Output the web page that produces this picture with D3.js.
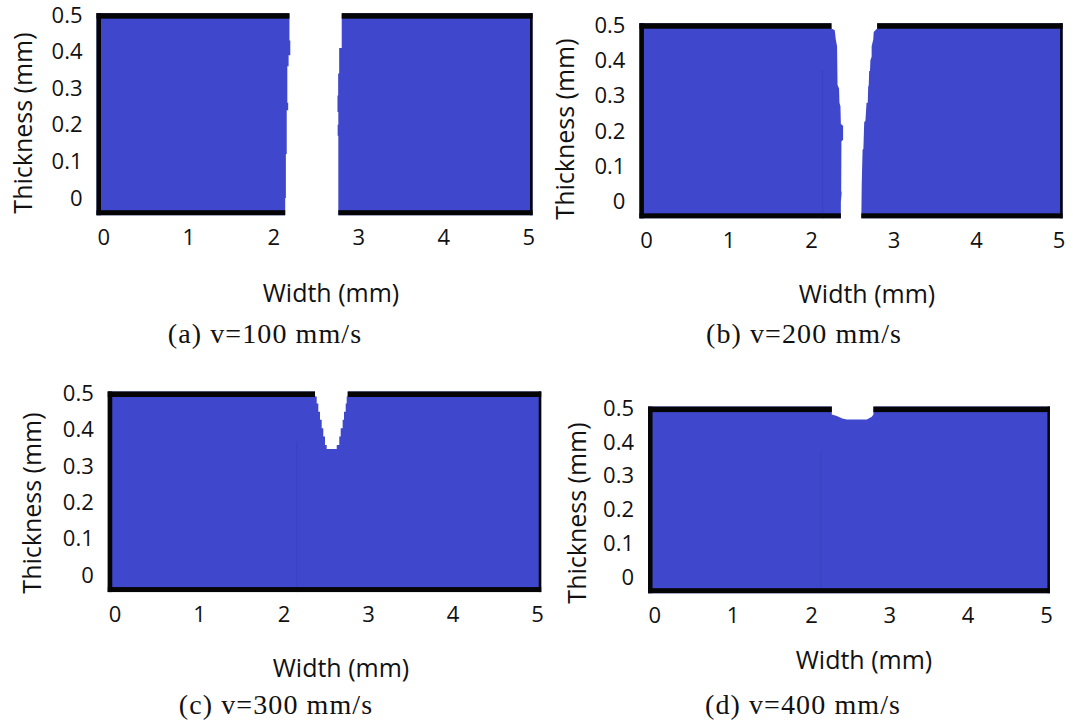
<!DOCTYPE html>
<html><head><meta charset="utf-8">
<script src="https://cdn.jsdelivr.net/npm/d3@7"></script>
<style>body{margin:0;background:#fff} svg{display:block}</style>
</head><body>
<svg id="chart" width="1073" height="726"></svg>
<script>
// ---------- data (mm) ----------
const widthTicks = [0, 1, 2, 3, 4, 5];
const thicknessTicks = [0, 0.1, 0.2, 0.3, 0.4, 0.5];
const panelCaptions = ["(a) v=100 mm/s", "(b) v=200 mm/s", "(c) v=300 mm/s", "(d) v=400 mm/s"];
const xTitle = "Width (mm)";
const yTitle = "Thickness (mm)";
const plateWidth = [-0.08, 5.05];
const plateThickness = [-0.047, 0.505];

// kerf walls, [width, thickness], top to bottom
const kerfA_left = [[2.19,0.505],[2.19,0.43],[2.20,0.43],[2.20,0.39],[2.18,0.39],[2.18,0.36],[2.165,0.36],[2.165,0.26],[2.175,0.26],[2.175,0.24],[2.158,0.24],[2.158,0.12],[2.148,0.12],[2.148,0.0],[2.14,0.0],[2.14,-0.047]];
const kerfA_right = [[2.805,0.505],[2.805,0.41],[2.775,0.41],[2.775,0.34],[2.763,0.34],[2.763,0.28],[2.755,0.28],[2.755,0.235],[2.765,0.235],[2.765,0.2],[2.757,0.2],[2.757,0.17],[2.765,0.17],[2.765,-0.047]];
const kerfB_left = [[2.248,0.505],[2.248,0.49],[2.288,0.485],[2.30,0.46],[2.316,0.44],[2.322,0.33],[2.34,0.32],[2.345,0.28],[2.357,0.27],[2.362,0.22],[2.389,0.215],[2.389,0.175],[2.369,0.17],[2.366,0.03],[2.372,0.025],[2.362,0.0],[2.362,-0.047]];
const kerfB_right = [[2.802,0.505],[2.802,0.49],[2.76,0.48],[2.755,0.46],[2.735,0.44],[2.735,0.41],[2.72,0.40],[2.715,0.37],[2.705,0.37],[2.700,0.33],[2.693,0.325],[2.688,0.28],[2.673,0.28],[2.66,0.23],[2.645,0.225],[2.635,0.15],[2.625,0.146],[2.615,0.05],[2.61,-0.047]];
// notches, [width, thickness], left to right
const notchC = [[2.373,0.505],[2.373,0.491],[2.393,0.491],[2.393,0.472],[2.412,0.472],[2.412,0.449],[2.432,0.449],[2.432,0.427],[2.452,0.427],[2.452,0.404],[2.471,0.404],[2.471,0.381],[2.491,0.381],[2.491,0.358],[2.511,0.358],[2.511,0.347],[2.630,0.347],[2.630,0.358],[2.660,0.358],[2.660,0.381],[2.677,0.381],[2.677,0.404],[2.700,0.404],[2.700,0.427],[2.716,0.427],[2.716,0.449],[2.736,0.449],[2.736,0.472],[2.748,0.472],[2.748,0.491],[2.760,0.491],[2.760,0.505]];
const notchD = [[2.266,0.505],[2.266,0.482],[2.33,0.477],[2.40,0.47],[2.457,0.467],[2.713,0.467],[2.776,0.475],[2.797,0.482],[2.797,0.505]];
// faint seam line in the mesh
const seamWidth = [null, 2.14, 2.156, 2.125];
const seamTop = [null, 0.37, 0.367, 0.372];

// ---------- layout ----------
const panels = [
  {x0:103.3, x5:528.3, y0:198,   y05:15,    yTitleX:23,  yTitleY:123, xTitleX:331, xTitleY:302, capX:265, capY:343, kind:"split", left:kerfA_left, right:kerfA_right},
  {x0:646,   x5:1058.5,y0:201.7, y05:25,    yTitleX:565, yTitleY:129, xTitleX:867, xTitleY:303, capX:804, capY:343, kind:"split", left:kerfB_left, right:kerfB_right},
  {x0:114.5, x5:537,   y0:575,   y05:393.3, yTitleX:32,  yTitleY:503, xTitleX:341, xTitleY:677, capX:276, capY:714, kind:"notch", notch:notchC},
  {x0:654.3, x5:1046,  y0:577.3, y05:408.3, yTitleX:577, yTitleY:513, xTitleX:864, xTitleY:669, capX:803, capY:714, kind:"notch", notch:notchD}
];
const BLUE = "#3F48CC", BLACK = "#050505";
const TOP_T = 5.5, BOT_T = 5, LEFT_T = 4.5, RIGHT_T = 2.5;
const svg = d3.select("#chart");
const sansFont = "'Open Sans', sans-serif";

panels.forEach((p, i) => {
  const x = d3.scaleLinear().domain([0, 5]).range([p.x0, p.x5]);
  const y = d3.scaleLinear().domain([0, 0.5]).range([p.y0, p.y05]);
  const g = svg.append("g");
  const line = d3.line().x(d => x(d[0])).y(d => y(d[1]));
  const [pl, pr] = plateWidth, [pb, pt] = plateThickness;

  let topSegs, botSegs;
  if (p.kind === "split") {
    const leftPoly = [[pl, pt], ...p.left, [pl, pb]];
    const rightPoly = [...p.right, [pr, pb], [pr, pt]];
    g.append("path").attr("d", line(leftPoly) + "Z").attr("fill", BLUE);
    g.append("path").attr("d", line(rightPoly) + "Z").attr("fill", BLUE);
    topSegs = [[pl, p.left[0][0]], [p.right[0][0], pr]];
    botSegs = [[pl, p.left[p.left.length - 1][0]], [p.right[p.right.length - 1][0], pr]];
  } else {
    const poly = [[pl, pt], ...p.notch, [pr, pt], [pr, pb], [pl, pb]];
    g.append("path").attr("d", line(poly) + "Z").attr("fill", BLUE);
    topSegs = [[pl, p.notch[0][0]], [p.notch[p.notch.length - 1][0], pr]];
    botSegs = [[pl, pr]];
  }
  if (seamWidth[i] !== null) {
    g.append("line")
      .attr("x1", x(seamWidth[i])).attr("x2", x(seamWidth[i]))
      .attr("y1", y(seamTop[i])).attr("y2", y(pb))
      .attr("stroke", "#3941BE").attr("stroke-width", 1).attr("opacity", 0.8);
  }
  // black frame pieces
  topSegs.forEach(s => g.append("rect").attr("x", x(s[0])).attr("y", y(pt))
    .attr("width", x(s[1]) - x(s[0])).attr("height", TOP_T).attr("fill", BLACK));
  botSegs.forEach(s => g.append("rect").attr("x", x(s[0])).attr("y", y(pb) - BOT_T)
    .attr("width", x(s[1]) - x(s[0])).attr("height", BOT_T).attr("fill", BLACK));
  g.append("rect").attr("x", x(pl)).attr("y", y(pt)).attr("width", LEFT_T)
    .attr("height", y(pb) - y(pt)).attr("fill", BLACK);
  g.append("rect").attr("x", x(pr) - RIGHT_T).attr("y", y(pt)).attr("width", RIGHT_T)
    .attr("height", y(pb) - y(pt)).attr("fill", BLACK);

  // axes
  const xa = g.append("g").attr("transform", `translate(0,${y(pb)})`)
    .call(d3.axisBottom(x).tickValues(widthTicks).tickSize(0).tickPadding(14).tickFormat(d3.format("d")));
  const ya = g.append("g").attr("transform", `translate(${x(pl)},0)`)
    .call(d3.axisLeft(y).tickValues(thicknessTicks).tickSize(0).tickPadding(14).tickFormat(d => d === 0 ? "0" : d3.format(".1f")(d)));
  [xa, ya].forEach(a => {
    a.select(".domain").remove();
    a.selectAll("text").attr("font-family", sansFont).attr("font-size", 22).attr("fill", "#111");
  });

  // titles
  g.append("text").attr("x", p.xTitleX).attr("y", p.xTitleY).attr("text-anchor", "middle")
    .attr("font-family", sansFont).attr("font-size", 25).attr("fill", "#111").text(xTitle);
  g.append("text").attr("transform", `translate(${p.yTitleX},${p.yTitleY}) rotate(-90)`)
    .attr("text-anchor", "middle").attr("dy", "0.36em")
    .attr("font-family", sansFont).attr("font-size", 25).attr("fill", "#111").text(yTitle);
  // caption
  g.append("text").attr("x", p.capX).attr("y", p.capY).attr("text-anchor", "middle")
    .attr("font-family", "'Liberation Serif', serif").attr("font-size", 28)
    .attr("letter-spacing", 1.1).attr("fill", "#111")
    .text(panelCaptions[i]);
});
</script>
</body></html>
